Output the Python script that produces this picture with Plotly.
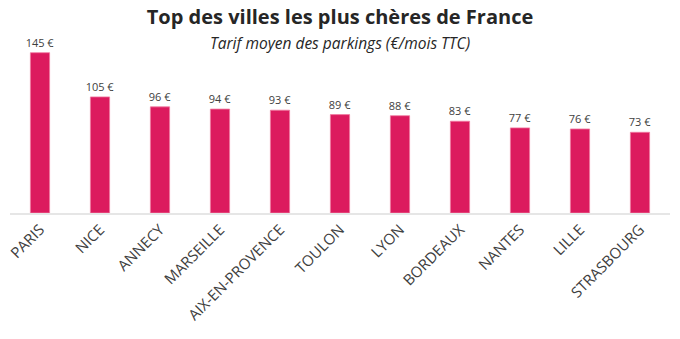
import plotly.graph_objects as go

villes = ["PARIS", "NICE", "ANNECY", "MARSEILLE", "AIX-EN-PROVENCE", "TOULON",
          "LYON", "BORDEAUX", "NANTES", "LILLE", "STRASBOURG"]
tarifs = [145, 105, 96, 94, 93, 89, 88, 83, 77, 76, 73]
etiquettes = [f"{v} €" for v in tarifs]

W, H = 680, 339
top_px, base_px = 30, 213
px_per_unit = (213 - 52.7) / 145
ymax = (base_px - top_px) / px_per_unit

fig = go.Figure(go.Bar(
    x=villes, y=tarifs, text=etiquettes, textposition="outside",
    constraintext="none",
    textfont=dict(size=11, color="#404040", family="Open Sans"),
    marker=dict(color="#DC1A5E", line=dict(color="#F07AA0", width=0.8)),
    cliponaxis=False, width=0.32,
))

fig.update_layout(
    width=W, height=H,
    margin=dict(l=10, r=10, t=top_px, b=H - base_px, autoexpand=False),
    plot_bgcolor="white", paper_bgcolor="white",
    showlegend=False,
    font=dict(family="Open Sans", color="#404040"),
    title=dict(text="<b>Top des villes les plus chères de France</b>",
               x=0.5, xanchor="center", y=1 - 17 / H, yanchor="middle",
               font=dict(size=20, color="#262626", family="Open Sans")),
    annotations=[dict(text="<i>Tarif moyen des parkings (€/mois TTC)</i>",
                      xref="paper", yref="paper", x=0.5, xanchor="center",
                      y=1 - (43 - top_px) / (base_px - top_px), yanchor="middle",
                      showarrow=False,
                      font=dict(size=15.5, color="#262626", family="Open Sans"))],
)
fig.update_xaxes(tickangle=-45, tickfont=dict(size=15, color="#404040"),
                 showline=True, linecolor="#E6E6E6", linewidth=2,
                 ticks="", showgrid=False, automargin=False)
fig.update_yaxes(range=[0, ymax], visible=False, showgrid=False, automargin=False)

fig.write_html("out.html")
